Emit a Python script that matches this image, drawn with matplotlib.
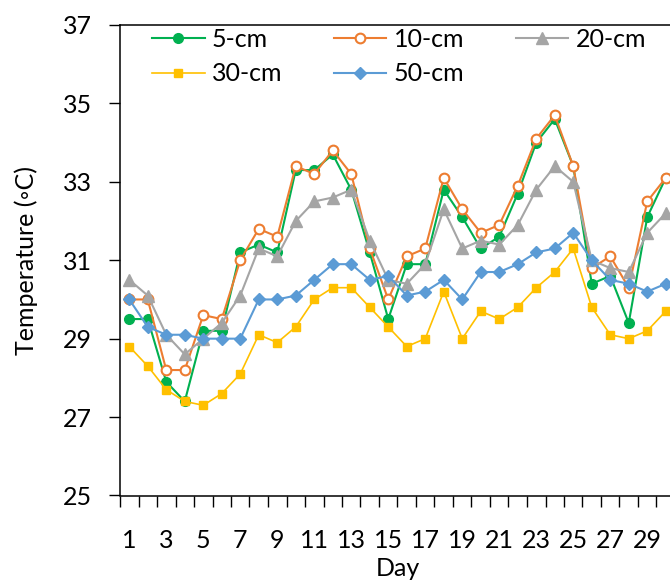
import matplotlib.pyplot as plt
import numpy as np

days = np.arange(1, 31)
labels = ["5-cm", "10-cm", "20-cm", "30-cm", "50-cm"]
t_5cm = [29.5, 29.5, 27.9, 27.4, 29.2, 29.2, 31.2, 31.4, 31.2, 33.3,
         33.3, 33.7, 32.8, 31.2, 29.5, 30.9, 30.9, 32.8, 32.1, 31.3,
         31.6, 32.7, 34.0, 34.6, 33.4, 30.4, 30.6, 29.4, 32.1, 33.1]
t_10cm = [30.0, 30.0, 28.2, 28.2, 29.6, 29.5, 31.0, 31.8, 31.6, 33.4,
          33.2, 33.8, 33.2, 31.3, 30.0, 31.1, 31.3, 33.1, 32.3, 31.7,
          31.9, 32.9, 34.1, 34.7, 33.4, 30.8, 31.1, 30.3, 32.5, 33.1]
t_20cm = [30.5, 30.1, 29.1, 28.6, 29.0, 29.4, 30.1, 31.3, 31.1, 32.0,
          32.5, 32.6, 32.8, 31.5, 30.5, 30.4, 30.9, 32.3, 31.3, 31.5,
          31.4, 31.9, 32.8, 33.4, 33.0, 31.0, 30.8, 30.7, 31.7, 32.2]
t_30cm = [28.8, 28.3, 27.7, 27.4, 27.3, 27.6, 28.1, 29.1, 28.9, 29.3,
          30.0, 30.3, 30.3, 29.8, 29.3, 28.8, 29.0, 30.2, 29.0, 29.7,
          29.5, 29.8, 30.3, 30.7, 31.3, 29.8, 29.1, 29.0, 29.2, 29.7]
t_50cm = [30.0, 29.3, 29.1, 29.1, 29.0, 29.0, 29.0, 30.0, 30.0, 30.1,
          30.5, 30.9, 30.9, 30.5, 30.6, 30.1, 30.2, 30.5, 30.0, 30.7,
          30.7, 30.9, 31.2, 31.3, 31.7, 31.0, 30.5, 30.4, 30.2, 30.4]

plt.rcParams["font.family"] = ["Lato", "DejaVu Sans"]

fig = plt.figure(figsize=(6.7, 5.85), dpi=100)
# plot area runs past the right edge, like the source image
ax = fig.add_axes([120 / 670, 89.5 / 585, 555 / 670, 470.5 / 585])

styles = [
    dict(color="#00B050", marker="o", ms=7, mfc="#00B050", mec="#00B050", lw=1.5),
    dict(color="#ED7D31", marker="o", ms=7, mfc="white", mec="#ED7D31", mew=1.5, lw=1.5),
    dict(color="#A5A5A5", marker="^", ms=8.5, mfc="#A5A5A5", mec="#A5A5A5", lw=1.5),
    dict(color="#FFC000", marker="s", ms=6, mfc="#FFC000", mec="#FFC000", lw=1.2),
    dict(color="#5B9BD5", marker="D", ms=6, mfc="#5B9BD5", mec="#5B9BD5", lw=1.5),
]
for series, name, st in zip([t_5cm, t_10cm, t_20cm, t_30cm, t_50cm], labels, styles):
    ax.plot(days, series, label=name, **st)

ax.set_xlim(0.5, 30.5)
ax.set_ylim(25, 37)
ax.set_yticks(np.arange(25, 38, 2))
ax.set_xticks(days[::2])
ax.set_xticks(np.arange(0.5, 31, 1), minor=True)
ax.tick_params(axis="x", which="major", length=0, pad=24, labelsize=18)
ax.tick_params(axis="x", which="minor", length=8, width=1, direction="out")
ax.tick_params(axis="y", length=8, width=1, pad=12, labelsize=18)
for s in ax.spines.values():
    s.set_linewidth(1.1)
    s.set_color("black")

ax.set_xlabel("Day", fontsize=18, labelpad=4)
ax.set_ylabel("Temperature (\u25e6C)", fontsize=18, labelpad=18)

# row-wise legend order as in the source (matplotlib fills columns first)
h, l = ax.get_legend_handles_labels()
order = [0, 3, 1, 4, 2]
ax.legend([h[i] for i in order], [l[i] for i in order],
          ncol=3, loc="upper left", bbox_to_anchor=(152 / 670, 1 - 28 / 585),
          bbox_transform=fig.transFigure, frameon=False, fontsize=18,
          handlelength=2.1, handletextpad=0.3, columnspacing=2.05,
          labelspacing=0.45, borderpad=0, borderaxespad=0)

fig.savefig("out.png", dpi=100)
